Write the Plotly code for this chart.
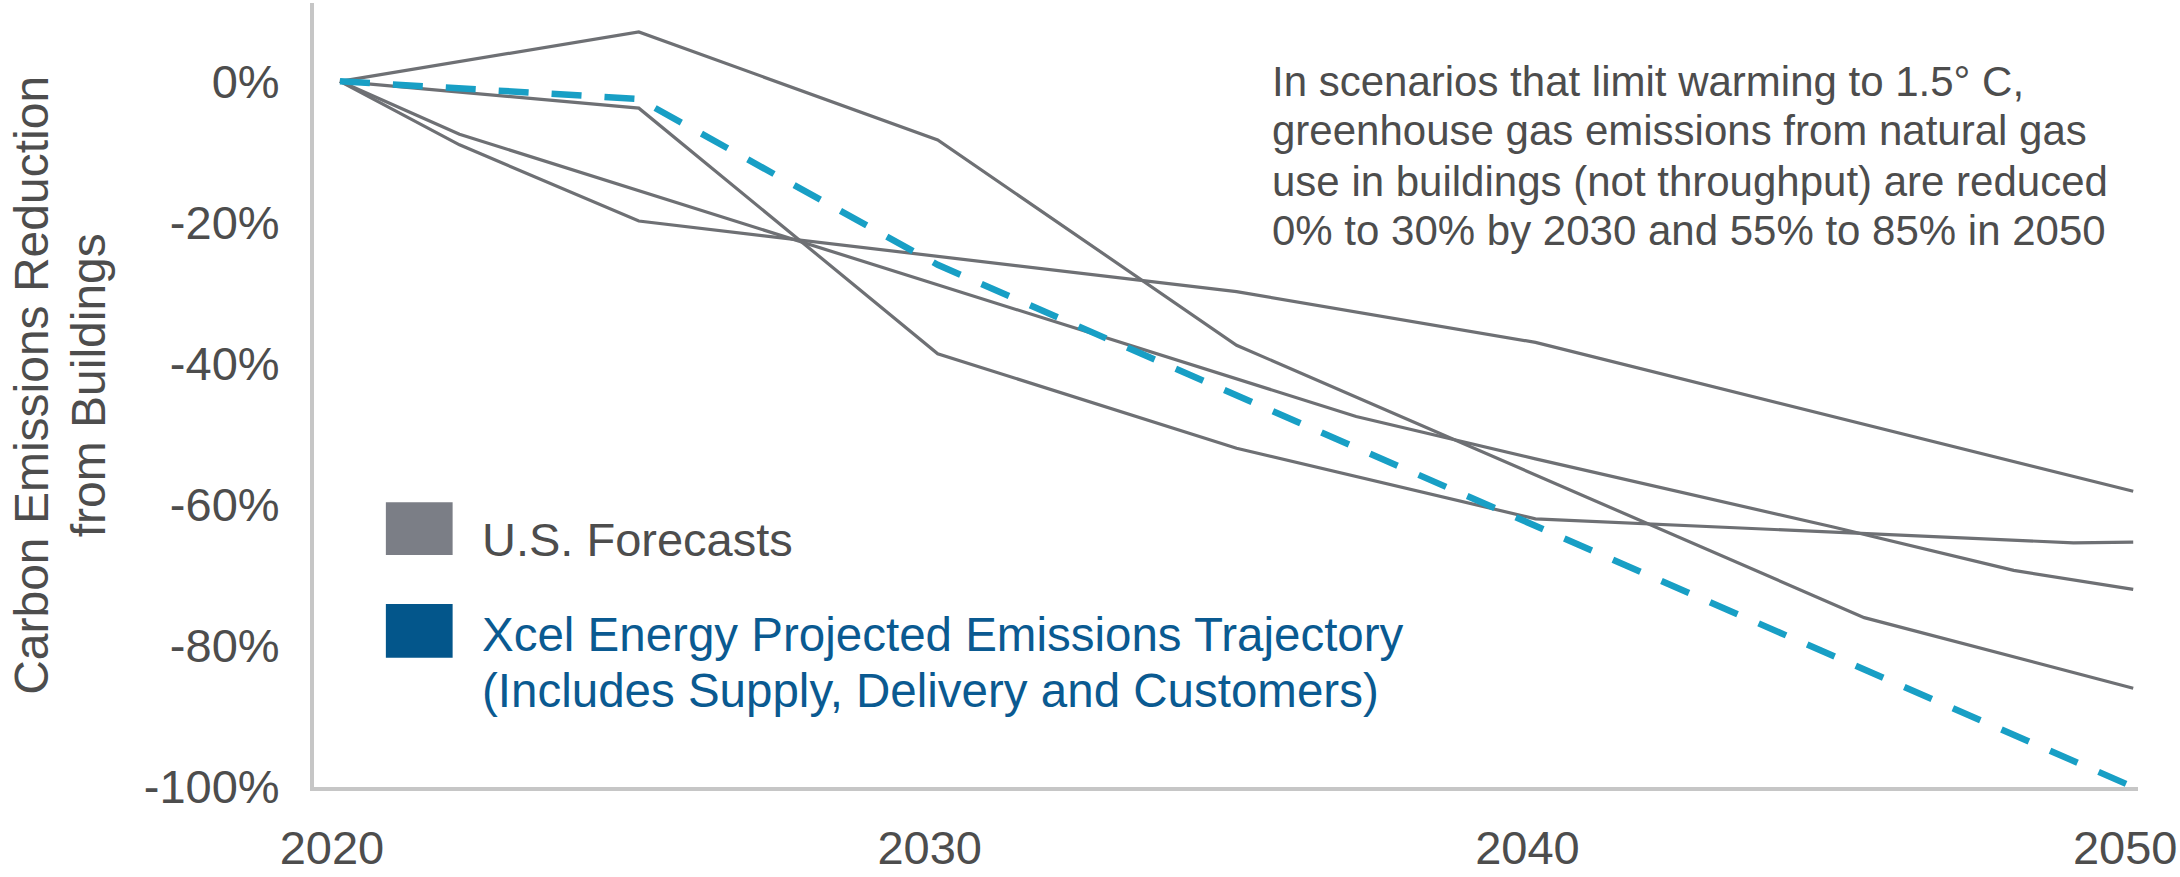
import plotly.graph_objects as go

# ---- data (percent change in building emissions vs. 2020) ----
us_forecast_a_years = [2020, 2025, 2030, 2035, 2045.5, 2050]
us_forecast_a = [0, 7, -8.3, -37.4, -76, -86]

us_forecast_b_years = [2020, 2022, 2025, 2030, 2035, 2040, 2045, 2050]
us_forecast_b = [0, -9, -19.8, -24.8, -29.8, -37, -47.5, -58.1]

us_forecast_c_years = [2020, 2025, 2030, 2035, 2040, 2049, 2050]
us_forecast_c = [0, -3.8, -38.6, -52, -62, -65.4, -65.3]

us_forecast_e_years = [2020, 2022, 2037, 2040, 2045, 2048, 2050]
us_forecast_e = [0, -7.5, -47.5, -53.5, -63.2, -69.3, -72]

xcel_years = [2020, 2025, 2030, 2050]
xcel_trajectory = [0, -2.5, -26, -100]

x_tick_values = [2020, 2030, 2040, 2050]
x_tick_labels = ["2020", "2030", "2040", "2050"]
y_tick_values = [0, -20, -40, -60, -80, -100]
y_tick_labels = ["0%", "-20%", "-40%", "-60%", "-80%", "-100%"]

y_title_lines = ["Carbon Emissions Reduction", "from Buildings"]
note_lines = [
    "In scenarios that limit warming to 1.5° C,",
    "greenhouse gas emissions from natural gas",
    "use in buildings (not throughput) are reduced",
    "0% to 30% by 2030 and 55% to 85% in 2050",
]
legend_us = "U.S. Forecasts"
legend_xcel = ["Xcel Energy Projected Emissions Trajectory",
               "(Includes Supply, Delivery and Customers)"]

# ---- styling ----
FONT = "Liberation Sans, Arial, sans-serif"
GRAY_LINE = "#6e7074"
GRAY_SWATCH = "#7b7e86"
BLUE_DASH = "#189fc5"
BLUE_TEXT = "#0a5a91"
TEXT = "#4d4d4d"
AXIS = "#c6c6c6"

fig = go.Figure()

for xs, ys in [
    (us_forecast_a_years, us_forecast_a),
    (us_forecast_b_years, us_forecast_b),
    (us_forecast_c_years, us_forecast_c),
    (us_forecast_e_years, us_forecast_e),
]:
    fig.add_trace(go.Scatter(
        x=xs, y=ys, mode="lines",
        line=dict(color=GRAY_LINE, width=3.2),
        showlegend=False, hoverinfo="skip",
    ))

fig.add_trace(go.Scatter(
    x=xcel_years, y=xcel_trajectory, mode="lines",
    line=dict(color=BLUE_DASH, width=6.5, dash="30px,23px"),
    showlegend=False, hoverinfo="skip",
))

fig.update_layout(
    width=2180, height=877,
    margin=dict(l=314, r=38, t=3, b=73),
    paper_bgcolor="white", plot_bgcolor="white",
    font=dict(family=FONT, color=TEXT),
    showlegend=False,
)

fig.update_xaxes(
    range=[2019.566, 2050.08],
    tickvals=x_tick_values, ticktext=x_tick_labels,
    tickfont=dict(size=47, color=TEXT, family=FONT),
    showgrid=False, zeroline=False, ticks="",
    showline=True, linecolor=AXIS, linewidth=4,
    ticklabelstandoff=17, ticklabelshift=-8,
    ticklabeloverflow="allow",
)
fig.update_yaxes(
    range=[-100, 11.1],
    tickvals=y_tick_values, ticktext=y_tick_labels,
    tickfont=dict(size=47, color=TEXT, family=FONT),
    showgrid=False, zeroline=False, ticks="",
    showline=True, linecolor=AXIS, linewidth=4,
    ticklabelstandoff=21,
)

annotations = []

# rotated axis title, one annotation per line
for text, xp in zip(y_title_lines, [-0.155, -0.1235]):
    annotations.append(dict(
        text=text, xref="paper", yref="paper", x=xp, y=0.512,
        xanchor="center", yanchor="middle", textangle=-90, showarrow=False,
        font=dict(size=48, color=TEXT, family=FONT),
    ))

# explanatory note in the upper right
for text, yp in zip(note_lines, [0.9001, 0.8377, 0.7728, 0.7104]):
    annotations.append(dict(
        text=text, xref="paper", yref="paper", x=0.524, y=yp,
        xanchor="left", yanchor="middle", showarrow=False,
        font=dict(size=42, color=TEXT, family=FONT),
    ))

# legend text
annotations.append(dict(
    text=legend_us, xref="paper", yref="paper", x=0.0908, y=0.316,
    xanchor="left", yanchor="middle", showarrow=False,
    font=dict(size=47, color=TEXT, family=FONT),
))
for text, yp in zip(legend_xcel, [0.1948, 0.1236]):
    annotations.append(dict(
        text=text, xref="paper", yref="paper", x=0.0908, y=yp,
        xanchor="left", yanchor="middle", showarrow=False,
        font=dict(size=47.5, color=BLUE_TEXT, family=FONT),
    ))

fig.update_layout(annotations=annotations)

# legend swatches
fig.add_shape(type="rect", xref="paper", yref="paper",
              x0=0.0394, x1=0.076, y0=0.2959, y1=0.3633,
              fillcolor=GRAY_SWATCH, line=dict(width=0))
fig.add_shape(type="rect", xref="paper", yref="paper",
              x0=0.0394, x1=0.076, y0=0.1648, y1=0.2335,
              fillcolor="#03568b", line=dict(width=0))

fig.write_html("out.html")
